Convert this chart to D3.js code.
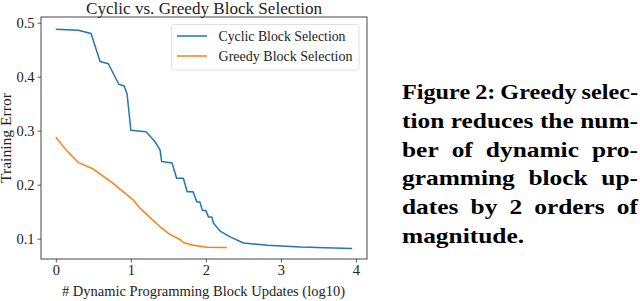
<!DOCTYPE html>
<meta charset="utf-8">
<style>
body { margin: 0; background: #fff; }
svg text { font-family: "Liberation Serif", serif; fill: #222; }
.caption text { font-weight: bold; fill: #000; }
</style>
<svg id="chart" width="640" height="301"></svg>
<script src="https://d3js.org/d3.v7.min.js"></script>
<script>

// cyclic block selection (x = log10 updates, y = training error)
var cyclicX = [0, 0.30, 0.47, 0.59, 0.70, 0.84, 0.91, 0.95, 1.00, 1.20, 1.23, 1.32, 1.39, 1.41, 1.55, 1.61, 1.70, 1.75, 1.83, 1.88, 1.92, 1.955, 2.00, 2.035, 2.08, 2.10, 2.19, 2.33, 2.50, 2.82, 3.26, 3.71, 3.95];
var cyclicY = [0.488, 0.486, 0.480, 0.428, 0.424, 0.386, 0.383, 0.368, 0.301, 0.298, 0.294, 0.280, 0.264, 0.243, 0.240, 0.212, 0.212, 0.187, 0.187, 0.168, 0.168, 0.152, 0.152, 0.140, 0.140, 0.129, 0.114, 0.103, 0.092, 0.088, 0.0845, 0.0826, 0.082];

// greedy block selection
var greedyX = [0, 0.14, 0.30, 0.50, 0.76, 1.03, 1.12, 1.21, 1.39, 1.52, 1.66, 1.70, 1.83, 2.01, 2.28];
var greedyY = [0.288, 0.264, 0.241, 0.229, 0.203, 0.172, 0.157, 0.145, 0.122, 0.108, 0.098, 0.093, 0.088, 0.084, 0.0835];

var xTicks = [0, 1, 2, 3, 4];
var yTicks = [0.1, 0.2, 0.3, 0.4, 0.5];
var seriesNames = ["Cyclic Block Selection", "Greedy Block Selection"];
var captionLines = [
  "Figure 2: Greedy selec-",
  "tion reduces the num-",
  "ber of dynamic pro-",
  "gramming block up-",
  "dates by 2 orders of",
  "magnitude."
];

var svg = d3.select("#chart");
var pLeft = 41, pRight = 367, pTop = 17, pBottom = 259;

var x = d3.scaleLinear().domain([-0.1975, 4.1475]).range([pLeft, pRight]);
var y = d3.scaleLinear().domain([0.0624, 0.5106]).range([pBottom, pTop]);

var line = d3.line()
    .x(function(d) { return x(d[0]); })
    .y(function(d) { return y(d[1]); });

var series = [
  { pts: d3.zip(cyclicX, cyclicY), color: "#1f77b4" },
  { pts: d3.zip(greedyX, greedyY), color: "#ff7f0e" }
];

series.forEach(function(s) {
  svg.append("path")
      .datum(s.pts)
      .attr("fill", "none")
      .attr("stroke", s.color)
      .attr("stroke-width", 1.5)
      .attr("stroke-linejoin", "round")
      .attr("d", line);
});

// axes
var xAxis = svg.append("g")
    .attr("transform", "translate(0," + pBottom + ")")
    .call(d3.axisBottom(x).tickValues(xTicks).tickFormat(d3.format("d")).tickSize(3.5).tickPadding(2));
var yAxis = svg.append("g")
    .attr("transform", "translate(" + pLeft + ",0)")
    .call(d3.axisLeft(y).tickValues(yTicks).tickFormat(d3.format(".1f")).tickSize(3.5).tickPadding(3));

[xAxis, yAxis].forEach(function(a) {
  a.select(".domain").remove();
  a.attr("font-family", null);
  a.selectAll("line").attr("stroke", "#333").attr("stroke-width", 0.8);
  a.selectAll("text").attr("font-size", 14.5).attr("fill", "#333");
});

svg.append("rect")
    .attr("x", pLeft).attr("y", pTop)
    .attr("width", pRight - pLeft).attr("height", pBottom - pTop)
    .attr("fill", "none").attr("stroke", "#333").attr("stroke-width", 0.9);

// title and labels
svg.append("text")
    .attr("x", (pLeft + pRight) / 2).attr("y", 13.5)
    .attr("text-anchor", "middle")
    .attr("font-size", 16.5)
    .attr("textLength", 236).attr("lengthAdjust", "spacingAndGlyphs")
    .text("Cyclic vs. Greedy Block Selection");

svg.append("text")
    .attr("x", (pLeft + pRight) / 2 - 0.5).attr("y", 296)
    .attr("text-anchor", "middle")
    .attr("font-size", 14)
    .attr("textLength", 283).attr("lengthAdjust", "spacingAndGlyphs")
    .attr("fill", "#333")
    .text("# Dynamic Programming Block Updates (log10)");

svg.append("text")
    .attr("transform", "translate(11," + ((pTop + pBottom) / 2) + ") rotate(-90)")
    .attr("text-anchor", "middle")
    .attr("font-size", 14)
    .attr("textLength", 90).attr("lengthAdjust", "spacingAndGlyphs")
    .attr("fill", "#333")
    .text("Training Error");

// legend
var legend = svg.append("g");
legend.append("rect")
    .attr("x", 171.5).attr("y", 24.5).attr("width", 187.5).attr("height", 45.5)
    .attr("rx", 2.5)
    .attr("fill", "#fff").attr("fill-opacity", 0.8)
    .attr("stroke", "#ddd").attr("stroke-width", 0.9);

seriesNames.forEach(function(name, i) {
  var ly = 36 + i * 20;
  legend.append("line")
      .attr("x1", 177).attr("x2", 207)
      .attr("y1", ly).attr("y2", ly)
      .attr("stroke", series[i].color).attr("stroke-width", 1.5);
  legend.append("text")
      .attr("x", 218.5).attr("y", ly + 4.5)
      .attr("font-size", 14)
      .attr("textLength", i === 0 ? 127 : 134).attr("lengthAdjust", "spacingAndGlyphs")
      .attr("fill", "#333")
      .text(name);
});

// caption, justified; glyphs widened a bit to look like the paper's font
var cap = svg.append("g").attr("class", "caption");
var capLeft = 402, capRight = 638, capTop = 99, capStep = 28.8, minGap = 5;

var probe = cap.append("text").attr("font-size", 21.5).text("magnitude.");
var stretch = 122 / probe.node().getComputedTextLength();
probe.remove();

captionLines.forEach(function(ln, i) {
  var words = ln.split(" ");
  var by = capTop + i * capStep;
  var last = i === captionLines.length - 1;
  var nodes = words.map(function(w) {
    return cap.append("text")
        .attr("y", by)
        .attr("font-size", 21.5)
        .text(w);
  });
  var raw = nodes.map(function(n) { return n.node().getComputedTextLength(); });
  var k = stretch;
  if (!last) k = Math.min(stretch, (capRight - capLeft - (words.length - 1) * minGap) / d3.sum(raw));
  var widths = raw.map(function(w, j) {
    nodes[j].attr("textLength", w * k).attr("lengthAdjust", "spacingAndGlyphs");
    return w * k;
  });
  var total = d3.sum(widths);
  var gap = last || words.length < 2 ? 6 : (capRight - capLeft - total) / (words.length - 1);
  var cx = capLeft;
  nodes.forEach(function(n, j) {
    n.attr("x", cx);
    cx += widths[j] + gap;
  });
});

</script>
